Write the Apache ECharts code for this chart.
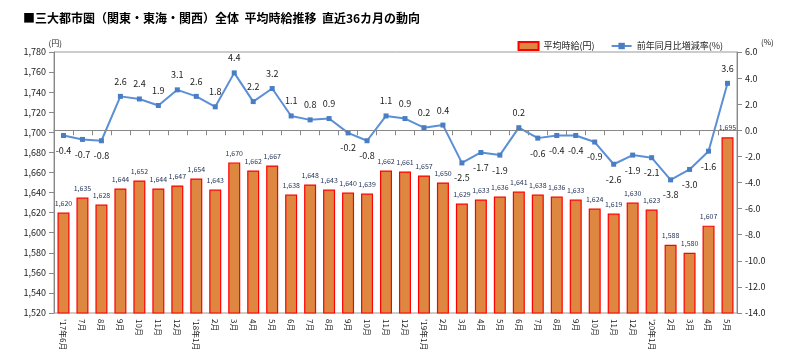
<!DOCTYPE html>
<html><head><meta charset="utf-8">
<script src="https://cdn.jsdelivr.net/npm/echarts@6/dist/echarts.min.js"></script>
<style>html,body{margin:0;padding:0;background:#fff}#c{width:792px;height:364px}</style>
</head><body><div id="c"></div>
<script>
const categories = ["'17年6月","7月","8月","9月","10月","11月","12月","'18年1月","2月","3月","4月","5月","6月","7月","8月","9月","10月","11月","12月","'19年1月","2月","3月","4月","5月","6月","7月","8月","9月","10月","11月","12月","'20年1月","2月","3月","4月","5月"];
const wage = [1620,1635,1628,1644,1652,1644,1647,1654,1643,1670,1662,1667,1638,1648,1643,1640,1639,1662,1661,1657,1650,1629,1633,1636,1641,1638,1636,1633,1624,1619,1630,1623,1588,1580,1607,1695];
const yoy = [-0.4,-0.7,-0.8,2.6,2.4,1.9,3.1,2.6,1.8,4.4,2.2,3.2,1.1,0.8,0.9,-0.2,-0.8,1.1,0.9,0.2,0.4,-2.5,-1.7,-1.9,0.2,-0.6,-0.4,-0.4,-0.9,-2.6,-1.9,-2.1,-3.8,-3.0,-1.6,3.6];
const FONT = '"Noto Sans CJK JP", "Noto Sans", sans-serif';
const chart = echarts.init(document.getElementById('c'));
chart.setOption({
  animation: false,
  textStyle: {fontFamily: FONT},
  title: {
    text: '■三大都市圏（関東・東海・関西）全体  平均時給推移  直近36カ月の動向',
    left: 18, top: 7,
    textStyle: {fontSize: 12, fontWeight: 'bold', color: '#000', fontFamily: FONT}
  },
  legend: {
    right: 64, top: 36, itemGap: 16,
    itemWidth: 20, itemHeight: 8,
    textStyle: {fontSize: 9, color: '#222', fontFamily: FONT},
    data: [
      {name: '平均時給(円)', icon: 'rect'},
      {name: '前年同月比増減率(%)'}
    ]
  },
  grid: {left: 54, right: 55, top: 52, bottom: 51, show: true, borderColor: '#999', borderWidth: 1},
  xAxis: {
    type: 'category', data: categories, boundaryGap: true,
    axisLine: {lineStyle: {color: '#888'}},
    axisTick: {show: true, alignWithLabel: false, lineStyle: {color: '#888'}},
    axisLabel: {rotate: -90, fontSize: 8, color: '#222', interval: 0, margin: 6}
  },
  yAxis: [
    {
      type: 'value', min: 1520, max: 1780, interval: 20,
      name: '(円)', nameLocation: 'end', nameGap: 5,
      nameTextStyle: {fontSize: 8, color: '#222', align: 'right', padding: [0, -8, 0, 0]},
      splitLine: {show: false},
      axisLine: {show: true, lineStyle: {color: '#888'}},
      axisTick: {show: true, lineStyle: {color: '#888'}},
      axisLabel: {fontSize: 9, color: '#222', formatter: v => v.toLocaleString('en-US')}
    },
    {
      type: 'value', min: -14, max: 6, interval: 2, position: 'right',
      name: '(%)', nameLocation: 'end', nameGap: 6,
      nameTextStyle: {fontSize: 8, color: '#222', align: 'left', padding: [0, 0, 0, 24]},
      splitLine: {show: false},
      axisLine: {show: true, lineStyle: {color: '#888'}},
      axisTick: {show: true, lineStyle: {color: '#888'}},
      axisLabel: {fontSize: 9, color: '#222', formatter: v => v.toFixed(1)}
    }
  ],
  series: [
    {
      name: '平均時給(円)', type: 'bar', yAxisIndex: 0,
      data: wage, barWidth: 12,
      itemStyle: {color: '#DE8741', borderColor: '#FF0000', borderWidth: 1.2},
      label: {show: true, position: 'top', distance: 6, fontSize: 7, color: '#1F2F55',
        formatter: p => p.value.toLocaleString('en-US')}
    },
    {
      name: '前年同月比増減率(%)', type: 'line', yAxisIndex: 1,
      data: yoy.map(v => ({value: v, label: {position: v < 0 ? 'bottom' : 'top'}})),
      symbol: 'rect', symbolSize: 5,
      lineStyle: {color: '#5B8FD6', width: 2},
      itemStyle: {color: '#4A7EC4'},
      label: {show: true, fontSize: 9, color: '#222', distance: 8, formatter: p => p.value.toFixed(1)},
      markLine: {
        silent: true, symbol: 'none',
        label: {show: false},
        lineStyle: {color: '#888', type: [4, 3], width: 1},
        data: [{yAxis: 0}]
      }
    }
  ]
});
</script></body></html>
